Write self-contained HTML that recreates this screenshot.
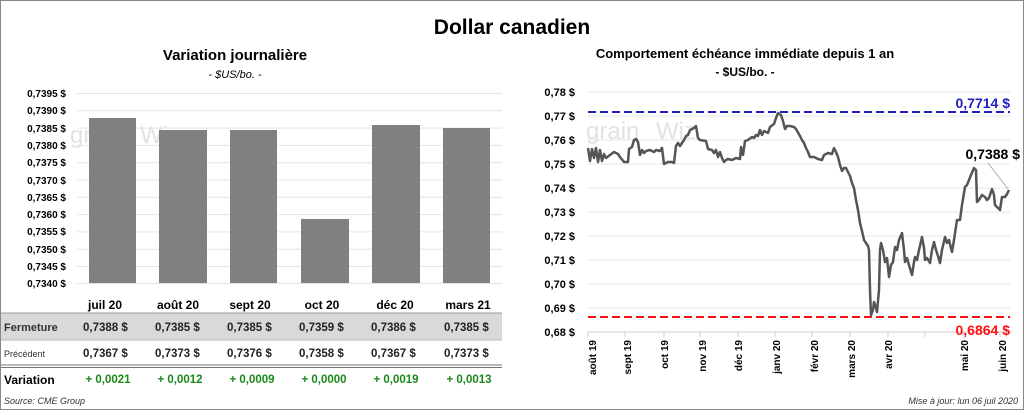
<!DOCTYPE html>
<html><head><meta charset="utf-8"><style>
body{margin:0;width:1024px;height:410px;background:#fff;font-family:"Liberation Sans",sans-serif;overflow:hidden}
svg text{font-family:"Liberation Sans",sans-serif}
</style></head><body>
<svg width="1024" height="410" viewBox="0 0 1024 410">
<rect x="0.5" y="0.5" width="1023" height="409" fill="#fff" stroke="#888"/>
<text x="512" y="34" text-anchor="middle" font-size="21" font-weight="bold">Dollar canadien</text>
<text x="235" y="60" text-anchor="middle" font-size="15" font-weight="bold">Variation  journalière</text>
<text x="235" y="78" text-anchor="middle" font-size="11" font-style="italic">- $US/bo. -</text>
<g stroke="#e4e4e4" stroke-width="1">
<line x1="77" x2="502" y1="93.5" y2="93.5"/><line x1="77" x2="502" y1="110.8" y2="110.8"/><line x1="77" x2="502" y1="128.1" y2="128.1"/><line x1="77" x2="502" y1="145.4" y2="145.4"/><line x1="77" x2="502" y1="162.7" y2="162.7"/><line x1="77" x2="502" y1="180" y2="180"/><line x1="77" x2="502" y1="197.3" y2="197.3"/><line x1="77" x2="502" y1="214.6" y2="214.6"/><line x1="77" x2="502" y1="231.9" y2="231.9"/><line x1="77" x2="502" y1="249.2" y2="249.2"/><line x1="77" x2="502" y1="266.5" y2="266.5"/><line x1="77" x2="502" y1="283.5" y2="283.5"/>
</g>
<g font-size="10" font-weight="bold" text-anchor="end">
<text x="66" y="97">0,7395 $</text><text x="66" y="114">0,7390 $</text><text x="66" y="132">0,7385 $</text><text x="66" y="149">0,7380 $</text><text x="66" y="166">0,7375 $</text><text x="66" y="184">0,7370 $</text><text x="66" y="201">0,7365 $</text><text x="66" y="218">0,7360 $</text><text x="66" y="235">0,7355 $</text><text x="66" y="253">0,7350 $</text><text x="66" y="270">0,7345 $</text><text x="66" y="287">0,7340 $</text>
</g>
<text x="70" y="143" font-size="24" fill="#e2e2e2">grain</text><text x="140" y="143" font-size="24" fill="#e2e2e2">Wiz</text>
<g fill="#808080">
<rect x="89" y="118" width="47" height="165"/><rect x="159" y="130" width="48" height="153"/><rect x="230" y="130" width="47" height="153"/><rect x="301" y="219" width="48" height="64"/><rect x="372" y="125" width="48" height="158"/><rect x="443" y="128" width="47" height="155"/>
</g>
<rect x="1" y="313" width="501" height="27" fill="#d9d9d9"/>
<line x1="1" x2="502" y1="313" y2="313" stroke="#999"/>
<line x1="1" x2="502" y1="340" y2="340" stroke="#bbb"/>
<line x1="1" x2="502" y1="365" y2="365" stroke="#777"/><line x1="1" x2="502" y1="367.5" y2="367.5" stroke="#777"/>
<g font-size="12" font-weight="bold" text-anchor="middle">
<text x="105" y="309">juil 20</text><text x="178" y="309">août 20</text><text x="250" y="309">sept 20</text><text x="322" y="309">oct 20</text><text x="395" y="309">déc 20</text><text x="468" y="309">mars 21</text>
</g>
<text x="4" y="331" font-size="11" font-weight="bold" fill="#333">Fermeture</text>
<text x="4" y="357" font-size="9" fill="#333">Précédent</text>
<text x="4" y="384" font-size="12" font-weight="bold">Variation</text>
<g font-size="11.5" font-weight="bold" fill="#222">
<text x="83" y="331">0,7388  $</text><text x="155" y="331">0,7385  $</text><text x="227" y="331">0,7385  $</text><text x="299" y="331">0,7359  $</text><text x="371" y="331">0,7386  $</text><text x="444" y="331">0,7385  $</text>
<text x="83" y="357">0,7367  $</text><text x="155" y="357">0,7373  $</text><text x="227" y="357">0,7376  $</text><text x="299" y="357">0,7358  $</text><text x="371" y="357">0,7367  $</text><text x="444" y="357">0,7373  $</text>
</g>
<g font-size="11.5" font-weight="bold" fill="#1a8a1a" text-anchor="middle">
<text x="108" y="383">+ 0,0021</text><text x="180" y="383">+ 0,0012</text><text x="252" y="383">+ 0,0009</text><text x="324" y="383">+ 0,0000</text><text x="396" y="383">+ 0,0019</text><text x="469" y="383">+ 0,0013</text>
</g>
<text x="4" y="404" font-size="9" font-style="italic" fill="#333">Source: CME Group</text>
<text x="1018" y="404" font-size="9" font-style="italic" fill="#333" text-anchor="end">Mise à jour: lun 06 juil 2020</text>

<text x="745" y="58" text-anchor="middle" font-size="13" font-weight="bold">Comportement échéance immédiate depuis 1 an</text>
<text x="745" y="76" text-anchor="middle" font-size="12" font-weight="bold">- $US/bo. -</text>
<g stroke="#e4e4e4">
<line x1="588" x2="1010" y1="92" y2="92"/><line x1="588" x2="1010" y1="116" y2="116"/><line x1="588" x2="1010" y1="140" y2="140"/><line x1="588" x2="1010" y1="164" y2="164"/><line x1="588" x2="1010" y1="188" y2="188"/><line x1="588" x2="1010" y1="212" y2="212"/><line x1="588" x2="1010" y1="236" y2="236"/><line x1="588" x2="1010" y1="260" y2="260"/><line x1="588" x2="1010" y1="284" y2="284"/><line x1="588" x2="1010" y1="308" y2="308"/>
</g>
<line x1="588" x2="1010" y1="332" y2="332" stroke="#ccc"/>
<g stroke="#ccc"><line x1="588" x2="588" y1="332" y2="337"/><line x1="625" x2="625" y1="332" y2="337"/><line x1="664" x2="664" y1="332" y2="337"/><line x1="700" x2="700" y1="332" y2="337"/><line x1="738" x2="738" y1="332" y2="337"/><line x1="775" x2="775" y1="332" y2="337"/><line x1="812" x2="812" y1="332" y2="337"/><line x1="850" x2="850" y1="332" y2="337"/><line x1="888" x2="888" y1="332" y2="337"/><line x1="925" x2="925" y1="332" y2="337"/><line x1="963" x2="963" y1="332" y2="337"/><line x1="1000" x2="1000" y1="332" y2="337"/></g>
<g font-size="11" font-weight="bold" text-anchor="end">
<text x="575" y="96">0,78 $</text><text x="575" y="120">0,77 $</text><text x="575" y="144">0,76 $</text><text x="575" y="168">0,75 $</text><text x="575" y="192">0,74 $</text><text x="575" y="216">0,73 $</text><text x="575" y="240">0,72 $</text><text x="575" y="264">0,71 $</text><text x="575" y="288">0,70 $</text><text x="575" y="312">0,69 $</text><text x="575" y="336">0,68 $</text>
</g>
<g font-size="10" font-weight="bold" text-anchor="end">
<text transform="translate(596,340) rotate(-90)">août 19</text><text transform="translate(631,340) rotate(-90)">sept 19</text><text transform="translate(668,340) rotate(-90)">oct 19</text><text transform="translate(706,340) rotate(-90)">nov 19</text><text transform="translate(742,340) rotate(-90)">déc 19</text><text transform="translate(780,340) rotate(-90)">janv 20</text><text transform="translate(818,340) rotate(-90)">févr 20</text><text transform="translate(855,340) rotate(-90)">mars 20</text><text transform="translate(892,340) rotate(-90)">avr 20</text><text transform="translate(968,340) rotate(-90)">mai 20</text><text transform="translate(1006,340) rotate(-90)">juin 20</text>
</g>
<text x="586" y="139" font-size="24" fill="#e2e2e2">grain</text><text x="656" y="139" font-size="24" fill="#e2e2e2">Wiz</text>
<line x1="588" x2="1010" y1="112" y2="112" stroke="#2020c0" stroke-width="2" stroke-dasharray="8,4"/>
<line x1="588" x2="1010" y1="317" y2="317" stroke="#ff1010" stroke-width="2" stroke-dasharray="8,4"/>
<text x="1010" y="108" text-anchor="end" font-size="14" font-weight="bold" fill="#2020c0">0,7714 $</text>
<text x="1010" y="335" text-anchor="end" font-size="14" font-weight="bold" fill="#ff1010">0,6864 $</text>
<text x="1020" y="159" text-anchor="end" font-size="14" font-weight="bold">0,7388 $</text>
<line x1="988" y1="163" x2="1008" y2="189" stroke="#aaa"/>
<polyline fill="none" stroke="#555" stroke-width="2.5" stroke-linejoin="round" points="588,148 590,161 592,149 594,158 596,148 598,162 600,150 602,161 604,154 606,158 610,155 614,152 618,154 620,157 624,162 628,162 629,149 632,147 634,140 636,139 638,142 640,155 642,150 644,153 646,151 650,150 654,152 656,150 660,151 662,148 664,164 668,162 672,162 674,163 676,146 678,143 680,146 684,140 686,136 688,135 690,130 694,128 696,126 698,138 700,140 706,141 708,149 712,150 714,153 716,150 718,157 720,152 722,158 724,162 726,160 728,159 732,160 736,158 740,159 741,147 743,155 745,141 748,140 752,137 754,138 756,135 758,136 760,130 762,135 764,131 768,133 770,127 774,124 776,118 778,113 781,115 783,121 785,129 787,126 790,126 794,127 796,129 800,136 802,140 804,143 806,148 808,152 810,157 814,157 818,159 822,160 824,155 828,153 832,154 834,148 836,152 838,157 840,165 842,171 844,168 846,168 850,176 852,183 854,188 856,200 858,210 860,223 862,231 864,240 866,243 868,246 869,250 870,290 871,315 873,310 874,302 876,308 877,312 879,290 880,250 881,243 883,250 885,262 887,258 889,277 891,265 893,262 895,247 897,250 899,240 902,233 904,250 905,262 907,258 909,265 912,275 914,262 915,257 917,260 919,250 922,237 924,248 925,260 927,258 930,263 932,250 934,242 936,250 938,256 940,263 942,250 945,237 947,243 949,240 952,252 954,240 957,220 960,220 962,205 965,187 967,185 969,180 971,175 974,168 976,170 977,202 979,200 982,195 985,197 987,200 989,198 992,189 994,195 995,205 998,208 1000,210 1002,197 1005,197 1007,194 1009,190"/>
</svg>
</body></html>
